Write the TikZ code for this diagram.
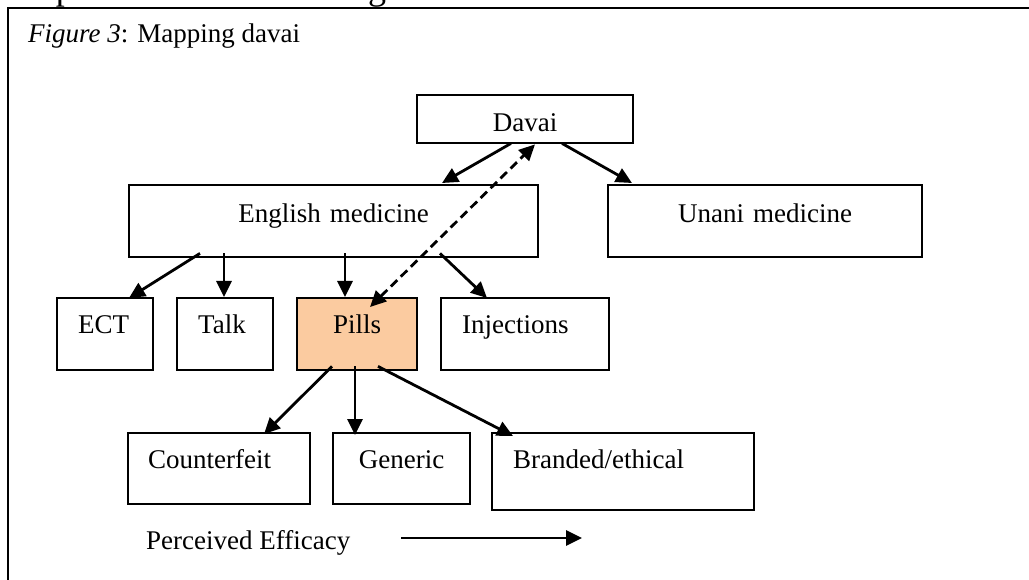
\documentclass[tikz,border=0pt]{standalone}
\usepackage{fontspec}
\setmainfont{Liberation Serif}
\usetikzlibrary{arrows.meta,calc}
\definecolor{pillfill}{RGB}{251,203,160}
\begin{document}
\begin{tikzpicture}[x=1pt,y=-1pt,
  every node/.style={font=\fontsize{27}{32}\selectfont},
  box/.style={draw=black,line width=2.4pt,rectangle,anchor=north west,inner ysep=0pt,inner xsep=0pt,align=center},
  arr/.style={line width=2.8pt,-{Triangle[length=16pt,width=15pt]}},
  darr/.style={line width=2.8pt,dash pattern=on 9pt off 5pt,{Triangle[length=16pt,width=15pt]}-{Triangle[length=16pt,width=15pt]}}
]
\useasboundingbox (0,0) rectangle (1029,580);
% outer frame (cut off by the page)
\draw[line width=2.8pt] (1040,8) -- (8,8) -- (8,590);
% fragments of heading above
\node[anchor=base,font=\fontsize{36}{40}\selectfont,inner sep=0pt] (fragp) at (65,-0.5) {p};
\node[anchor=base,font=\fontsize{36}{40}\selectfont,inner sep=0pt] (fragg) at (377,-0.5) {g};
% caption
\node[anchor=base west,inner sep=0pt] (cap) at (28,43) {\textit{Figure 3}: Mapping davai};
% boxes
\node[box,minimum width=216pt,minimum height=48pt,text width=216pt,text height=36pt,text depth=12pt] (dav) at (416,94) {Davai};
\node[box,minimum width=409pt,minimum height=72pt,text width=409pt,text height=37pt,text depth=35pt] (eng) at (128,184) {English medicine};
\node[box,minimum width=314pt,minimum height=72pt,text width=314pt,text height=37pt,text depth=35pt] (una) at (607,184) {Unani medicine};
\node[box,minimum width=96pt,minimum height=72pt,text width=96pt,align=left,text height=35pt,text depth=37pt] (ect) at (56,297) {\hspace*{21pt}ECT};
\node[box,minimum width=96pt,minimum height=72pt,text width=96pt,align=left,text height=35pt,text depth=37pt] (tlk) at (176,297) {\hspace*{21pt}Talk};
\node[box,fill=pillfill,minimum width=120pt,minimum height=72pt,text width=120pt,text height=35pt,text depth=37pt] (pil) at (296,297) {Pills};
\node[box,minimum width=168pt,minimum height=72pt,text width=168pt,align=left,text height=35pt,text depth=37pt] (inj) at (440,297) {\hspace*{21pt}Injections};
\node[box,minimum width=182pt,minimum height=71pt,text width=182pt,align=left,text height=35pt,text depth=36pt] (cf) at (127,432) {\hspace*{20pt}Counterfeit};
\node[box,minimum width=137pt,minimum height=71pt,text width=137pt,text height=35pt,text depth=36pt] (gen) at (332,432) {Generic};
\node[box,minimum width=262pt,minimum height=77pt,text width=262pt,align=left,text height=35pt,text depth=42pt] (br) at (491,432) {\hspace*{21pt}Branded/ethical};
% perceived efficacy
\node[anchor=base west,inner sep=0pt] (pe) at (146,549) {Perceived Efficacy};
\coordinate (pea) at (401,538);
\coordinate (peb) at (582,538);
% connectors
\draw[arr] ($(dav.south west)+(95,-1)$) -- ($(eng.north west)+(314,-1)$);
\draw[arr] ($(dav.south west)+(146,-1)$) -- ($(una.north west)+(25,-1)$);
\draw[darr] ($(pil.north west)+(74,10)$) -- ($(dav.south west)+(119,0)$);
\draw[arr] ($(eng.south west)+(72,-5)$) -- ($(ect.north west)+(73,1)$);
\draw[arr] ($(eng.south west)+(96,-5)$) -- ($(tlk.north west)+(48,0)$);
\draw[arr] ($(eng.south west)+(217,-5)$) -- ($(pil.north west)+(49,0)$);
\draw[arr] ($(eng.south west)+(312,-5)$) -- ($(inj.north west)+(47,1)$);
\draw[arr] ($(pil.south west)+(36,-5)$) -- ($(cf.north west)+(137,2)$);
\draw[arr] ($(pil.south west)+(59,-5)$) -- ($(gen.north west)+(23,3)$);
\draw[arr] ($(pil.south west)+(82,-5)$) -- ($(br.north west)+(22,4)$);
\draw[arr] (pea) -- (peb);
\end{tikzpicture}
\end{document}
